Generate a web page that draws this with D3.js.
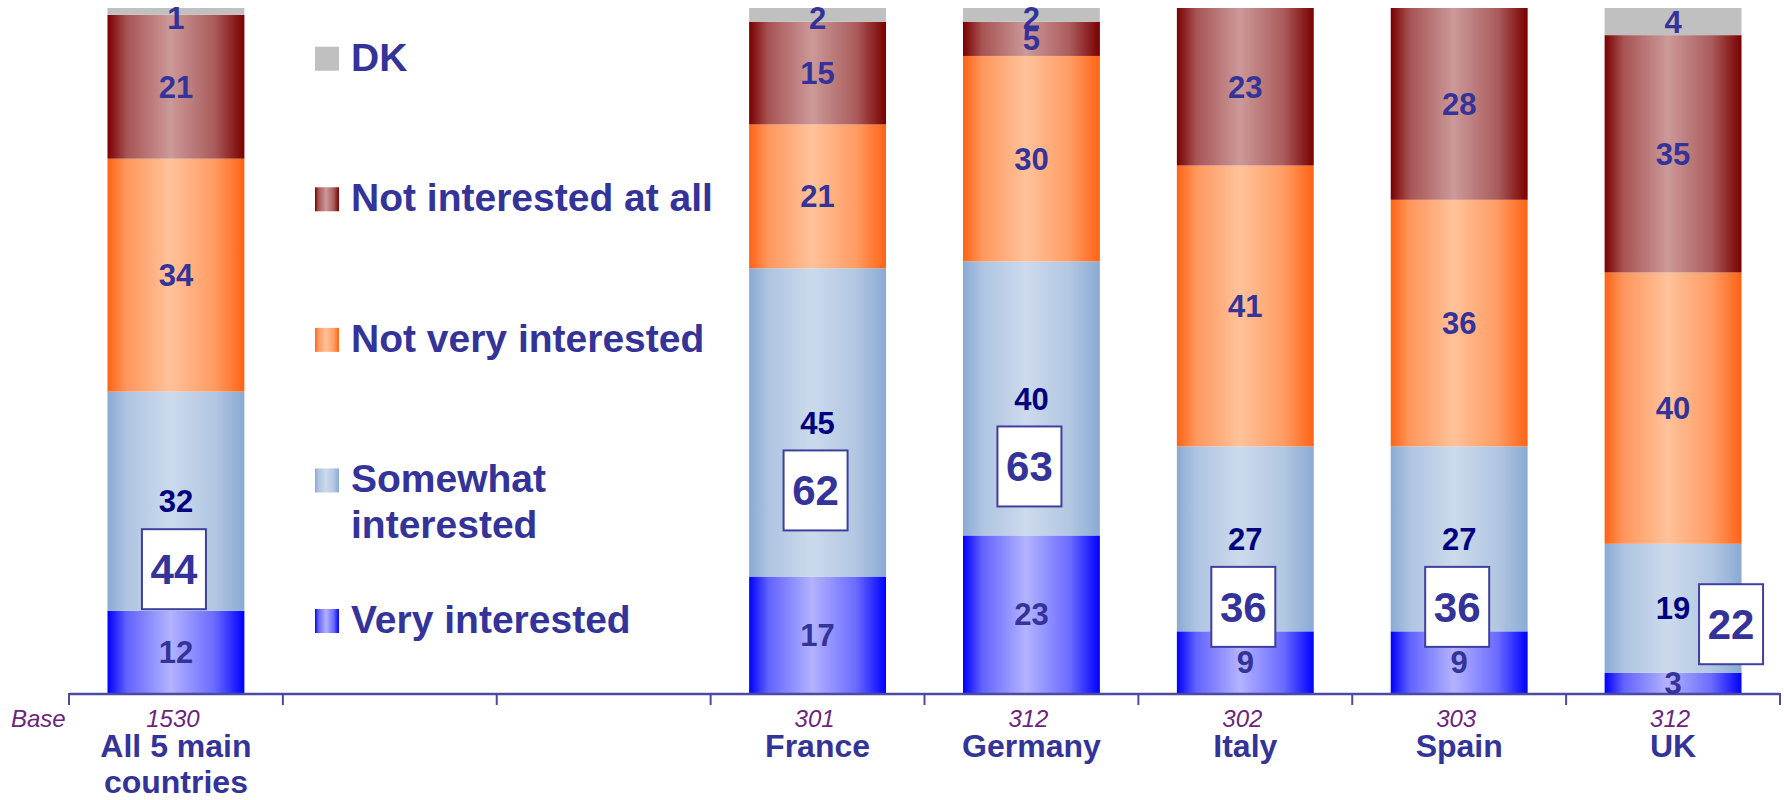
<!DOCTYPE html>
<html>
<head>
<meta charset="utf-8">
<script src="https://cdn.jsdelivr.net/npm/d3@7/dist/d3.min.js"></script>
<style>
  html, body { margin: 0; padding: 0; background: #ffffff; }
  svg { display: block; }
  text { font-family: "Liberation Sans", Arial, Helvetica, sans-serif; }
</style>
</head>
<body>
<svg id="chart" width="1784" height="800"></svg>
<script>
// ---------------- data ----------------
const categories = ["All 5 main countries", "", "", "France", "Germany", "Italy", "Spain", "UK"];
const bases = [1530, null, null, 301, 312, 302, 303, 312];
const veryInterested     = [12, null, null, 17, 23,  9,  9,  3];
const somewhatInterested = [32, null, null, 45, 40, 27, 27, 19];
const notVeryInterested  = [34, null, null, 21, 30, 41, 36, 40];
const notInterestedAtAll = [21, null, null, 15,  5, 23, 28, 35];
const dontKnow           = [ 1, null, null,  2,  2,  0,  0,  4];
const seriesNames = ["Very interested", "Somewhat interested", "Not very interested", "Not interested at all", "DK"];
const seriesKeys = ["vi", "si", "nvi", "nia", "dk"];
const baseLabel = "Base";

// ---------------- styles ----------------
const seriesColors = {
  vi:  { edge: "#0000FF", center: "#B3B3FF" },
  si:  { edge: "#8AAAD3", center: "#CCDAEC" },
  nvi: { edge: "#FF6314", center: "#FFC29A" },
  nia: { edge: "#7A0000", center: "#CC9999" },
  dk:  { edge: "#C0C0C0", center: "#C0C0C0" }
};
const textBlue = "#333399";
const navy = "#000080";
const purple = "#6B2480";
const axisColor = "#4B4BA3";

const svg = d3.select("#chart");

// gradients
const defs = svg.append("defs");
seriesKeys.forEach(k => {
  const c = seriesColors[k];
  const g = defs.append("linearGradient").attr("id", "grad-" + k)
    .attr("x1", "0%").attr("x2", "100%").attr("y1", "0%").attr("y2", "0%");
  const mix = d3.interpolateRgb(c.edge, c.center);
  [[0, 0], [0.14, 0.55], [0.46, 1], [0.78, 0.6], [1, 0]].forEach(([o, t]) => {
    g.append("stop").attr("offset", o).attr("stop-color", mix(t));
  });
});

// table
const rows = categories.map((c, i) => ({
  idx: i, name: c, base: bases[i],
  vi: veryInterested[i], si: somewhatInterested[i], nvi: notVeryInterested[i],
  nia: notInterestedAtAll[i], dk: dontKnow[i]
}));
const dataRows = rows.filter(r => r.vi !== null);

// scales
const x = d3.scaleBand().domain(d3.range(categories.length))
  .range([69, 1780]).paddingInner(0.36).paddingOuter(0.18);
const y = d3.scaleLinear().domain([0, 1]).range([693, 8]);

const stack = d3.stack().keys(seriesKeys).offset(d3.stackOffsetExpand);
const stacked = stack(dataRows);

// bars
const gBars = svg.append("g");
stacked.forEach(layer => {
  gBars.selectAll(null).data(layer).enter().append("rect")
    .attr("x", d => x(d.data.idx))
    .attr("width", x.bandwidth())
    .attr("y", d => y(d[1]))
    .attr("height", d => Math.max(0, y(d[0]) - y(d[1])))
    .attr("fill", "url(#grad-" + layer.key + ")");
});

// axis line + boundary ticks
const step = x.step();
const x0 = x.range()[0];
const boundaries = d3.range(categories.length + 1).map(i => x0 + i * step);
const gAxis = svg.append("g");
gAxis.append("line")
  .attr("x1", x0).attr("x2", x.range()[1])
  .attr("y1", y(0) + 1).attr("y2", y(0) + 1)
  .attr("stroke", axisColor).attr("stroke-width", 2.5);
gAxis.selectAll(null).data(boundaries).enter().append("line")
  .attr("x1", d => d).attr("x2", d => d)
  .attr("y1", y(0)).attr("y2", y(0) + 12)
  .attr("stroke", axisColor).attr("stroke-width", 2);

// value labels
const valFont = 31;
const cap = 0.716;
const gLabels = svg.append("g");
const siMid = {};
stacked.forEach(layer => {
  layer.forEach(d => {
    const v = d.data[layer.key];
    if (!v) return;
    let mid = (y(d[0]) + y(d[1])) / 2;
    mid = Math.max(mid, y(1) + 10);
    if (layer.key === "si") siMid[d.data.idx] = { mid, h: y(d[0]) - y(d[1]) };
    gLabels.append("text")
      .attr("x", x(d.data.idx) + x.bandwidth() / 2)
      .attr("y", mid + valFont * cap / 2)
      .attr("text-anchor", "middle")
      .attr("font-size", valFont).attr("font-weight", "bold")
      .attr("fill", layer.key === "si" ? navy : textBlue)
      .text(v);
  });
});

// boxed totals (very + somewhat interested)
const boxW = 64, boxH = 80, boxFont = 42;
const gBox = svg.append("g");
dataRows.forEach(r => {
  const total = d3.sum([r.vi, r.si]);
  const cx0 = x(r.idx) + x.bandwidth() / 2;
  const info = siMid[r.idx];
  let cx, cy;
  if (info.h > 160) { cx = cx0 - 2; cy = info.mid + 68; }
  else { cx = cx0 + 58; cy = info.mid + 16; }
  gBox.append("rect")
    .attr("x", cx - boxW / 2).attr("y", cy - boxH / 2)
    .attr("width", boxW).attr("height", boxH)
    .attr("fill", "#ffffff").attr("stroke", "#3F3F9F").attr("stroke-width", 2);
  gBox.append("text")
    .attr("x", cx).attr("y", cy + boxFont * cap / 2)
    .attr("text-anchor", "middle")
    .attr("font-size", boxFont).attr("font-weight", "bold")
    .attr("fill", textBlue).text(total);
});

// base labels
const gBase = svg.append("g");
gBase.append("text").attr("x", 11).attr("y", 727)
  .attr("font-size", 24).attr("font-style", "italic").attr("fill", purple).text(baseLabel);
dataRows.forEach(r => {
  gBase.append("text")
    .attr("x", x(r.idx) + x.bandwidth() / 2 - 3).attr("y", 727)
    .attr("text-anchor", "middle")
    .attr("font-size", 24).attr("font-style", "italic").attr("fill", purple)
    .text(r.base);
});

// category labels with wrapping
const catFont = 32;
const gCat = svg.append("g");
rows.forEach(r => {
  if (!r.name) return;
  const cx = x(r.idx) + x.bandwidth() / 2;
  const t = gCat.append("text")
    .attr("x", cx).attr("y", 757)
    .attr("text-anchor", "middle")
    .attr("font-size", catFont).attr("font-weight", "bold").attr("fill", textBlue);
  const words = r.name.split(" ");
  let line = [];
  let ts = t.append("tspan").attr("x", cx).attr("dy", 0);
  words.forEach(w => {
    line.push(w);
    ts.text(line.join(" "));
    if (ts.node().getComputedTextLength() > step * 0.78 && line.length > 1) {
      line.pop();
      ts.text(line.join(" "));
      line = [w];
      ts = t.append("tspan").attr("x", cx).attr("dy", 36).text(w);
    }
  });
});

// legend
const legendKeys = seriesKeys.slice().reverse();
const legendNames = seriesNames.slice().reverse();
const ly = d3.scalePoint().domain(legendKeys).range([70.7, 633]);
const legFont = 39;
const gLeg = svg.append("g");
legendKeys.forEach((k, i) => {
  const base = ly(k);
  gLeg.append("rect").attr("x", 315).attr("y", base - 24)
    .attr("width", 24).attr("height", 24)
    .attr("fill", "url(#grad-" + k + ")");
  const t = gLeg.append("text").attr("x", 351).attr("y", base)
    .attr("font-size", legFont).attr("font-weight", "bold").attr("fill", textBlue);
  const name = legendNames[i];
  if (name === "Somewhat interested") {
    t.append("tspan").attr("x", 351).attr("dy", 0).text("Somewhat");
    t.append("tspan").attr("x", 351).attr("dy", 46).text("interested");
  } else {
    t.text(name);
  }
});
</script>
</body>
</html>
